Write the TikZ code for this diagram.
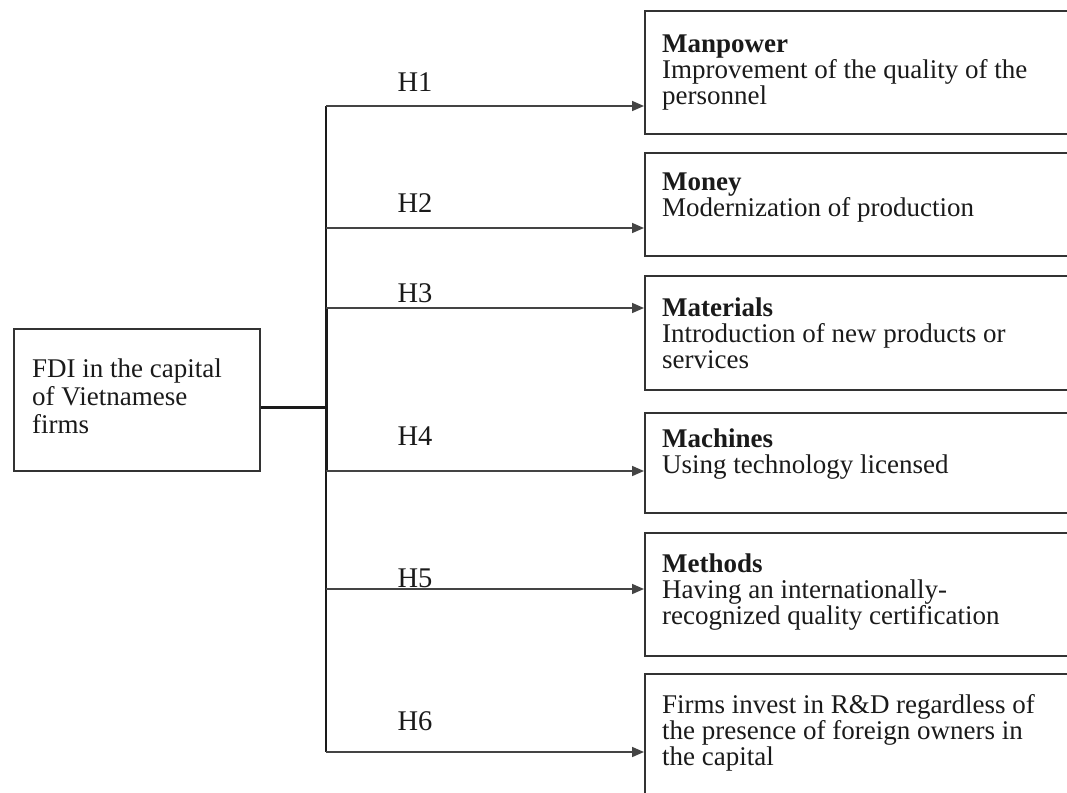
\documentclass[tikz,border=0pt]{standalone}
\usepackage{fontspec}
\setmainfont{Liberation Serif}
\usetikzlibrary{arrows.meta}
\definecolor{ink}{HTML}{1A1A1A}
\definecolor{frame}{HTML}{333333}
\definecolor{wire}{HTML}{444444}
\begin{document}
\begin{tikzpicture}[x=1pt,y=-1pt,
  box/.style={draw=frame, line width=2.2pt, inner sep=0pt, anchor=north west, minimum width=450pt},
  boxtext/.style={anchor=base west, inner sep=0pt, align=left, text=ink, font=\fontsize{27}{26}\selectfont},
  hlabel/.style={anchor=base, inner sep=0pt, text=ink, font=\fontsize{28.5}{30}\selectfont},
  arr/.style={draw=wire, line width=1.6pt, -{Triangle[length=12pt,width=10pt]}},
  trunk/.style={draw=ink, line width=2pt}]
\useasboundingbox (0,0) rectangle (1067,792);
\clip (0,0) rectangle (1067,792);

% left box
\node[box, minimum width=246pt, minimum height=142pt] (L) at (13,328) {};
% base anchor of a multi-line node = baseline of its last line
\node[boxtext, font=\fontsize{27}{28}\selectfont] (Lt) at (32,433) {FDI in the capital\\of Vietnamese\\firms};

% right boxes
\node[box, minimum height=123pt] (b1) at (644,10) {};
\node[box, minimum height=103pt] (b2) at (644,152) {};
\node[box, minimum height=114pt] (b3) at (644,275) {};
\node[box, minimum height=100pt] (b4) at (644,412) {};
\node[box, minimum height=123pt] (b5) at (644,532) {};
\node[box, minimum height=140pt] (b6) at (644,673) {};

\node[boxtext] (t1) at (662,104) {\textbf{Manpower}\\Improvement of the quality of the\\personnel};
\node[boxtext] (t2) at (662,216) {\textbf{Money}\\Modernization of production};
\node[boxtext] (t3) at (662,368) {\textbf{Materials}\\Introduction of new products or\\services};
\node[boxtext] (t4) at (662,473) {\textbf{Machines}\\Using technology licensed};
\node[boxtext] (t5) at (662,624) {\textbf{Methods}\\Having an internationally-\\recognized quality certification};
\node[boxtext] (t6) at (662,765) {Firms invest in R\&D regardless of\\the presence of foreign owners in\\the capital};

% junctions on the spine
\coordinate (j1) at (326,106);
\coordinate (j2) at (326,228);
\coordinate (j3) at (326,308);
\coordinate (t)  at (326,407);
\coordinate (j4) at (326,471);
\coordinate (j5) at (326,589);
\coordinate (j6) at (326,752);

% trunk and spine
\draw[trunk, line width=3pt] (L.east |- t) -- (t);
\draw[trunk, line width=1.6pt] (j1) -- (j6);
\draw[trunk, line width=3pt] (j3) -- (j4);

% arrows
\draw[arr] (j1) -- (j1 -| b1.west);
\draw[arr] (j2) -- (j2 -| b2.west);
\draw[arr] (j3) -- (j3 -| b3.west);
\draw[arr] (j4) -- (j4 -| b4.west);
\draw[arr] (j5) -- (j5 -| b5.west);
\draw[arr] (j6) -- (j6 -| b6.west);

% labels
\node[hlabel] (h1) at (415,91) {H1};
\node[hlabel] (h2) at (415,212) {H2};
\node[hlabel] (h3) at (415,302) {H3};
\node[hlabel] (h4) at (415,445) {H4};
\node[hlabel] (h5) at (415,587) {H5};
\node[hlabel] (h6) at (415,730) {H6};
\end{tikzpicture}
\end{document}
